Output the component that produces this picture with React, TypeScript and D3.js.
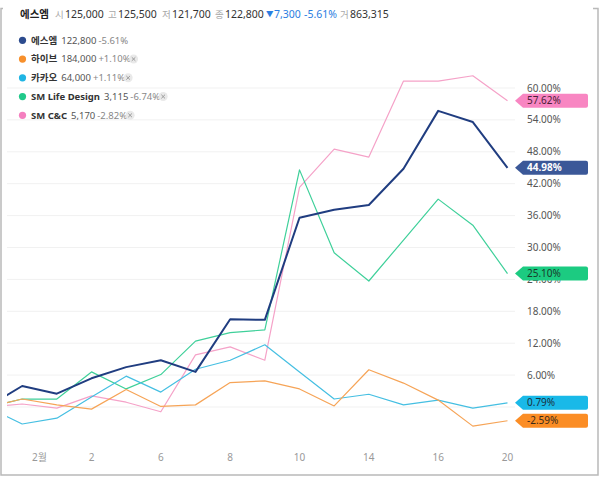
import React, { useEffect, useRef } from 'react';
import * as d3 from 'd3';

// ---- data ----
const dates = ["1.30", "1.31", "2.1", "2.2", "2.5", "2.6", "2.7", "2.8", "2.9", "2.10", "2.13", "2.14", "2.15", "2.16", "2.19", "2.20"];
const xTickPos = [1.5, 3, 5, 7, 9, 11, 13, 15];
const xTickLabels = ["2월", "2", "6", "8", "10", "14", "16", "20"];
const yTickValues = [6, 12, 18, 24, 30, 36, 42, 48, 54, 60];
const gridValues = [0, 6, 12, 18, 24, 30, 36, 42, 48, 54, 60];

const seriesNames = ["에스엠", "하이브", "카카오", "SM Life Design", "SM C&C"];
const seriesPrices = ["122,800", "184,000", "64,000", "3,115", "5,170"];
const seriesChanges = ["-5.61%", "+1.10%", "+1.11%", "-6.74%", "-2.82%"];

const smValues = [0, 3.95, 2.5, 5.4, 7.5, 8.8, 6.6, 16.5, 16.4, 35.6, 37.1, 38.0, 44.8, 55.7, 53.6, 44.98];
const hybeValues = [0, 1.5, 0.4, -0.4, 3.3, 0.1, 0.4, 4.6, 4.9, 3.4, 0.2, 7.0, 4.5, 1.3, -3.6, -2.59];
const kakaoValues = [0, -3.2, -2.1, 1.9, 5.8, 2.8, 7.1, 8.8, 11.7, 6.6, 1.5, 2.4, 0.4, 1.3, -0.2, 0.79];
const smldValues = [0, 1.5, 1.5, 6.6, 3.4, 6.1, 12.4, 14.0, 14.5, 44.6, 29.0, 23.7, 31.4, 39.1, 34.2, 25.10];
const smccValues = [0, 0.56, -0.2, 2.1, 0.9, -0.9, 9.8, 11.3, 8.8, 41.3, 48.5, 47.0, 61.3, 61.3, 62.3, 57.62];

const header = [
  { t: "에스엠", role: "title" },
  { t: "시", role: "key" }, { t: "125,000", role: "val" },
  { t: "고", role: "key" }, { t: "125,500", role: "val" },
  { t: "저", role: "key" }, { t: "121,700", role: "val" },
  { t: "종", role: "key" }, { t: "122,800", role: "val" },
  { t: "▼", role: "arrow" }, { t: "7,300", role: "chg" }, { t: "-5.61%", role: "chg" },
  { t: "거", role: "key" }, { t: "863,315", role: "val" },
];
const headerX = [20, 55, 65, 108, 118, 162, 172, 215, 225, 266, 274, 304, 340, 350];

const allValues = [smValues, hybeValues, kakaoValues, smldValues, smccValues];
const lineColors = ["#203d80", "#f6a457", "#45bfe2", "#3fd09a", "#f5a2c8"];
const lineWidths = [2, 1.2, 1.2, 1.2, 1.2];
const dotColors = ["#2c4b8e", "#f7902c", "#1fb5e4", "#20c98a", "#f47fbf"];
const tagColors = ["#3b5898", "#fb8d25", "#19b9e8", "#1ccb81", "#f886c2"];
const tagTextColors = ["#ffffff", "#3a2a1a", "#1a3040", "#1a3a2a", "#4a2036"];
const drawOrder = [4, 3, 2, 1, 0];

const FONT = '"Noto Sans", "Noto Sans CJK KR", sans-serif';

export default function App() {
  const ref = useRef<SVGSVGElement>(null);

  useEffect(() => {
    const svg = d3.select(ref.current);
    svg.selectAll('*').remove();
    const W = 600, H = 477;

    const x = d3.scaleLinear().domain([0, dates.length - 1]).range([-12.5, 507.5]);
    const y = d3.scaleLinear().domain([0, 60]).range([407, 88]);

    svg.append('rect').attr('width', W).attr('height', H).attr('fill', '#fff');
    // frame
    svg.append('rect').attr('x', 1).attr('y', 8.5).attr('width', 597).attr('height', 466.5)
      .attr('fill', 'none').attr('stroke', '#b9b9b9').attr('stroke-width', 1.5);
    svg.append('rect').attr('x', 3).attr('y', 0).attr('width', 590).attr('height', 24).attr('fill', '#fff');

    // header
    const hg = svg.append('g').attr('font-family', FONT);
    header.forEach((h, i) => {
      const t = hg.append('text').attr('x', headerX[i]).attr('y', 18).text(h.t);
      if (h.role === 'title') t.attr('font-size', 10.5).attr('font-weight', 700).attr('fill', '#222');
      else if (h.role === 'key') t.attr('font-size', 9.5).attr('fill', '#a8a8a8');
      else if (h.role === 'val') t.attr('font-size', 10.5).attr('fill', '#333');
      else if (h.role === 'arrow') t.attr('font-size', 7.5).attr('y', 17).attr('fill', '#2a7de1');
      else t.attr('font-size', 10.5).attr('fill', '#2a7de1');
    });

    // gridlines
    svg.append('g').selectAll('line').data(gridValues).join('line')
      .attr('x1', 7).attr('x2', 515)
      .attr('y1', d => y(d)).attr('y2', d => y(d))
      .attr('stroke', '#f1f1f1').attr('stroke-width', 1);

    // y labels
    svg.append('g').attr('font-family', FONT).selectAll('text').data(yTickValues).join('text')
      .attr('x', 527).attr('y', d => y(d) + 3.5)
      .attr('font-size', 10).attr('fill', '#555')
      .text(d => d.toFixed(2) + '%');

    // x labels
    svg.append('g').attr('font-family', FONT).selectAll('text').data(xTickPos).join('text')
      .attr('x', d => x(d)).attr('y', 461).attr('text-anchor', 'middle')
      .attr('font-size', 10).attr('fill', '#999')
      .text((d, i) => xTickLabels[i]);

    // clip
    svg.append('defs').append('clipPath').attr('id', 'plotclip')
      .append('rect').attr('x', 7).attr('y', 30).attr('width', 520).attr('height', 415);

    const line = d3.line<number>().x((d, i) => x(i)).y(d => y(d));
    const lg = svg.append('g').attr('clip-path', 'url(#plotclip)');
    drawOrder.forEach(si => {
      lg.append('path').datum(allValues[si]).attr('d', line)
        .attr('fill', 'none').attr('stroke', lineColors[si])
        .attr('stroke-width', lineWidths[si]).attr('stroke-linejoin', 'round');
    });

    // end tags
    const tg = svg.append('g').attr('font-family', FONT);
    [4, 0, 3, 2, 1].forEach(si => {
      const v = allValues[si][allValues[si].length - 1];
      const cy = y(v);
      const hh = 7;
      tg.append('path')
        .attr('d', `M515,${cy} L523,${cy - hh} L586,${cy - hh} Q588,${cy - hh} 588,${cy - hh + 2} L588,${cy + hh - 2} Q588,${cy + hh} 586,${cy + hh} L523,${cy + hh} Z`)
        .attr('fill', tagColors[si]);
      tg.append('text').attr('x', 527).attr('y', cy + 3.6)
        .attr('font-size', 10).attr('fill', tagTextColors[si])
        .attr('font-weight', si === 0 ? 700 : 400)
        .text(v.toFixed(2) + '%');
    });

    // legend
    const leg = svg.append('g').attr('font-family', FONT);
    seriesNames.forEach((name, i) => {
      const cy = 40.3 + i * 18.75;
      leg.append('circle').attr('cx', 22.5).attr('cy', cy).attr('r', 3.6).attr('fill', dotColors[i]);
      const t = leg.append('text').attr('x', 31).attr('y', cy + 3.4).attr('font-size', 9.5);
      t.append('tspan').attr('font-weight', 700).attr('fill', '#333').text(name);
      t.append('tspan').attr('dx', 4).attr('fill', '#555').text(seriesPrices[i]);
      t.append('tspan').attr('dx', 2).attr('fill', '#888').text(seriesChanges[i]);
      if (i > 0) {
        const len = (t.node() as SVGTextElement).getComputedTextLength();
        const bx = 31 + len + 9;
        leg.append('circle').attr('cx', bx).attr('cy', cy).attr('r', 4.5).attr('fill', '#e9e9e9');
        leg.append('path')
          .attr('d', `M${bx - 1.8},${cy - 1.8} L${bx + 1.8},${cy + 1.8} M${bx + 1.8},${cy - 1.8} L${bx - 1.8},${cy + 1.8}`)
          .attr('stroke', '#9a9a9a').attr('stroke-width', 1);
      }
    });
  }, []);

  return (
    <svg ref={ref} width={600} height={477}
      style={{ position: 'absolute', left: 0, top: 0, display: 'block' }} />
  );
}
